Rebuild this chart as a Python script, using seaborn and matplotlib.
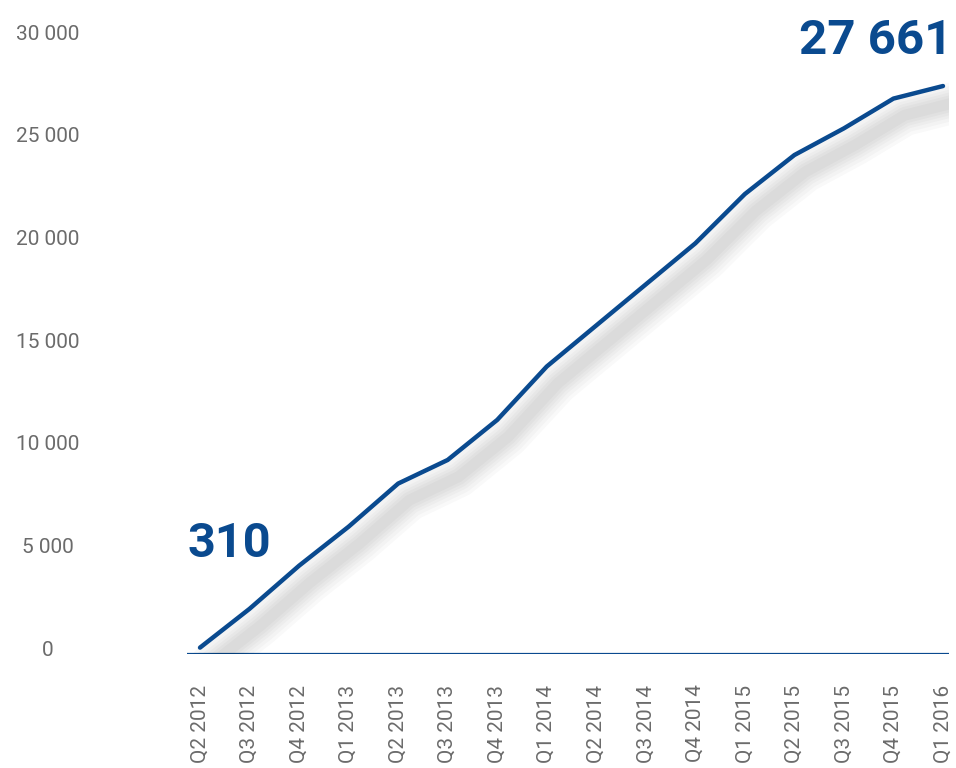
import matplotlib
matplotlib.use("Agg")
import matplotlib.pyplot as plt
import matplotlib.patheffects as pe
import matplotlib.transforms as mtransforms
import seaborn as sns
import pandas as pd

# --- datos ---
trimestres = ["Q2 2012", "Q3 2012", "Q4 2012", "Q1 2013", "Q2 2013", "Q3 2013",
              "Q4 2013", "Q1 2014", "Q2 2014", "Q3 2014", "Q4 2014", "Q1 2015",
              "Q2 2015", "Q3 2015", "Q4 2015", "Q1 2016"]
valores = [310, 2200, 4300, 6200, 8300, 9450, 11400, 14000, 16000, 18000,
           20000, 22400, 24300, 25600, 27050, 27661]
yticks = [0, 5000, 10000, 15000, 20000, 25000, 30000]
ytick_labels = ["0", "5 000", "10 000", "15 000", "20 000", "25 000", "30 000"]
etiqueta_inicio = "310"
etiqueta_fin = "27 661"

azul = "#0A4A8F"
gris = "#6b6b6b"

df = pd.DataFrame({"pos": range(len(trimestres)), "valor": valores})

sns.set_style("white")
plt.rcParams["font.family"] = ["Roboto", "DejaVu Sans"]

fig = plt.figure(figsize=(9.56, 7.68), dpi=100)
ax = fig.add_axes([187 / 956, 114 / 768, (949 - 187) / 956, (654 - 38) / 768])

# sombra difusa bajo la línea
sombra = [pe.SimpleLineShadow(offset=(8, -12), shadow_color="#000000", alpha=0.022, linewidth=w)
          for w in (30, 25, 20, 16, 12, 8)]
sns.lineplot(data=df, x="pos", y="valor", ax=ax, color=azul, linewidth=3.2,
             path_effects=sombra + [pe.Normal()], zorder=3)
ax.axhline(0, color=azul, linewidth=1.6, zorder=2)

ax.set_xlim(-13 / 49.5, len(trimestres) - 1 + 6 / 49.5)
ax.set_ylim(0, 30000)
ax.set_xticks(range(len(trimestres)))
ax.set_xticklabels(trimestres, rotation=90, fontsize=15, color=gris, va="top", ha="center")
ax.set_yticks(yticks)
ax.set_yticklabels(ytick_labels, fontsize=15, color=gris, ha="center")
ax.tick_params(axis="x", length=0, pad=22)
ax.tick_params(axis="y", length=0, pad=100)
desplazar = mtransforms.ScaledTranslation(0, 0.06, fig.dpi_scale_trans)
for lbl in ax.get_yticklabels():
    lbl.set_transform(lbl.get_transform() + desplazar)
ax.set_xlabel("")
ax.set_ylabel("")
sns.despine(ax=ax, left=True, bottom=True)

ax.annotate(etiqueta_inicio, xy=(0, valores[0]), xytext=(-9, 65), textcoords="offset points",
            ha="left", va="baseline", fontsize=35, fontweight="bold", color=azul,
            annotation_clip=False)
ax.annotate(etiqueta_fin, xy=(len(trimestres) - 1, valores[-1]), xytext=(7, 23),
            textcoords="offset points", ha="right", va="baseline", fontsize=35.5,
            fontweight="bold", color=azul, annotation_clip=False)

fig.savefig("out.png", dpi=100)
